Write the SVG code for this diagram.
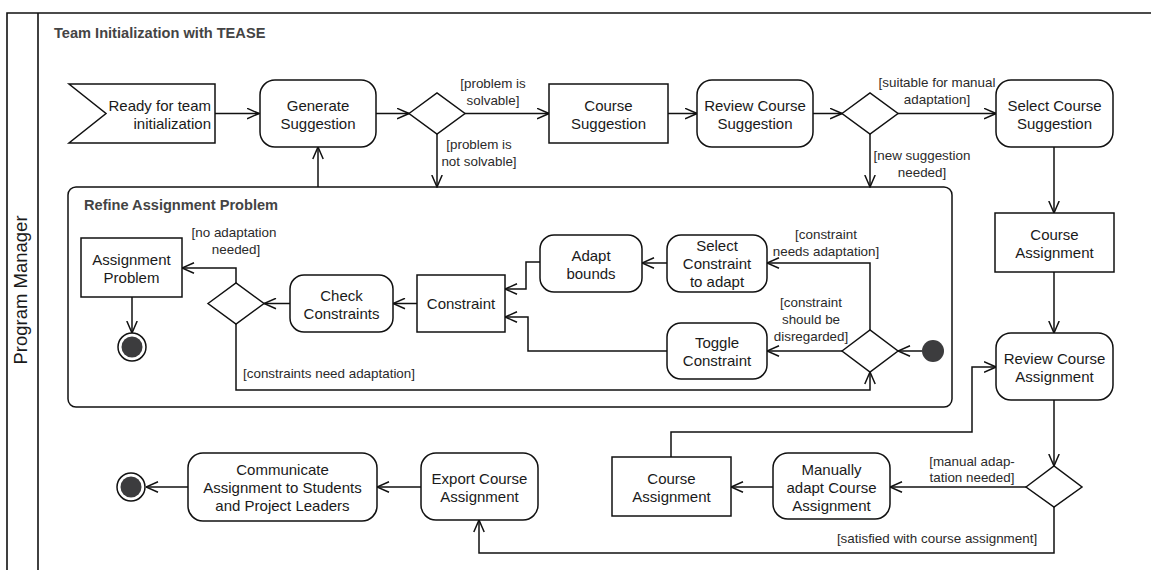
<svg xmlns="http://www.w3.org/2000/svg" width="1151" height="570" viewBox="0 0 1151 570">
  <defs>
    <style>
      .lane { fill: none; stroke: #111; stroke-width: 1.6; }
      .node { fill: #fff; stroke: #111; stroke-width: 1.5; }
      .region { fill: #fff; stroke: #111; stroke-width: 1.5; }
      .edge { fill: none; stroke: #111; stroke-width: 1.5; marker-end: url(#open); }
      .solid { fill: #3c3c3e; stroke: none; }
      .ring { fill: #fff; stroke: #111; stroke-width: 1.5; }
      .lbl { font-family: "Liberation Sans", Arial, sans-serif; font-size: 15px; fill: #1a1a1a; text-anchor: middle; }
      .guard { font-family: "Liberation Sans", Arial, sans-serif; font-size: 13.4px; fill: #2a2a2a; text-anchor: middle; }
      .title { font-family: "Liberation Sans", Arial, sans-serif; font-size: 14.6px; font-weight: bold; fill: #444; }
      .lanename { font-family: "Liberation Sans", Arial, sans-serif; font-size: 18.5px; fill: #1a1a1a; text-anchor: middle; }
    </style>
    <marker id="open" viewBox="0 0 13 12" refX="12.5" refY="6" markerWidth="13" markerHeight="12" orient="auto" markerUnits="userSpaceOnUse">
      <path d="M0.5,0.8 L12.5,6 L0.5,11.2" fill="none" stroke="#111" stroke-width="1.5"/>
    </marker>
  </defs>

  <!-- swimlane frame -->
  <g id="lane">
    <path class="lane" d="M7,575 L7,13 L1160,13"/>
    <line class="lane" x1="38" y1="13" x2="38" y2="575"/>
    <text class="lanename" transform="translate(27,290) rotate(-90)">Program Manager</text>
    <text class="title" x="54" y="38">Team Initialization with TEASE</text>
  </g>

  <!-- structured region -->
  <g id="refine-region">
    <rect class="region" x="68" y="187" width="884" height="220" rx="8"/>
    <text class="title" x="84" y="210">Refine Assignment Problem</text>
  </g>

  <!-- connectors -->
  <g id="connectors">
    <path class="edge" d="M215,113.5 L259,113.5"/>
    <path class="edge" d="M376,113.5 L409,113.5"/>
    <path class="edge" d="M465,113.5 L549,113.5"/>
    <path class="edge" d="M668,113.5 L697,113.5"/>
    <path class="edge" d="M813,113.5 L842,113.5"/>
    <path class="edge" d="M898,113.5 L996,113.5"/>
    <path class="edge" d="M437,134 L437,187"/>
    <path class="edge" d="M870,134 L870,187"/>
    <path class="edge" d="M318,187 L318,147"/>
    <path class="edge" d="M1054,147 L1054,213"/>
    <path class="edge" d="M1054,272 L1054,333"/>
    <path class="edge" d="M1054,400 L1054,466"/>
    <path class="edge" d="M1026,487 L890,487"/>
    <path class="edge" d="M773,487 L731,487"/>
    <path class="edge" d="M671,457 L671,432 L972,432 L972,367 L996,367"/>
    <path class="edge" d="M1054,507 L1054,553 L479,553 L479,520"/>
    <path class="edge" d="M421,487 L377,487"/>
    <path class="edge" d="M188,487 L146,487"/>
    <!-- inside the region -->
    <path class="edge" d="M922,351 L898,351"/>
    <path class="edge" d="M870,330 L870,263 L767,263"/>
    <path class="edge" d="M842,351 L767,351"/>
    <path class="edge" d="M667,263 L642,263"/>
    <path class="edge" d="M540,262 L526,262 L526,289 L505,289"/>
    <path class="edge" d="M667,351 L528,351 L528,317 L505,317"/>
    <path class="edge" d="M417,303.5 L393,303.5"/>
    <path class="edge" d="M290,303.5 L264,303.5"/>
    <path class="edge" d="M236,283 L236,268 L182,268"/>
    <path class="edge" d="M132,297 L132,333"/>
    <path class="edge" d="M236,324 L236,390 L870,390 L870,372"/>
  </g>

  <!-- guard labels -->
  <g id="guards">
    <text class="guard" x="493" y="88">[problem is</text>
    <text class="guard" x="493" y="105">solvable]</text>
    <text class="guard" x="479" y="149">[problem is</text>
    <text class="guard" x="479" y="166">not solvable]</text>
    <text class="guard" x="937" y="87">[suitable for manual</text>
    <text class="guard" x="937" y="104">adaptation]</text>
    <text class="guard" x="922" y="160">[new suggestion</text>
    <text class="guard" x="922" y="177">needed]</text>
    <text class="guard" x="234" y="237">[no adaptation</text>
    <text class="guard" x="236" y="254">needed]</text>
    <text class="guard" x="329" y="378">[constraints need adaptation]</text>
    <text class="guard" x="826" y="239">[constraint</text>
    <text class="guard" x="826" y="256">needs adaptation]</text>
    <text class="guard" x="811" y="307">[constraint</text>
    <text class="guard" x="811" y="324">should be</text>
    <text class="guard" x="811" y="341">disregarded]</text>
    <text class="guard" x="972" y="466">[manual adap-</text>
    <text class="guard" x="972" y="482">tation needed]</text>
    <text class="guard" x="937" y="543">[satisfied with course assignment]</text>
  </g>

  <!-- nodes -->
  <g id="ready">
    <polygon class="node" points="69,84 215,84 215,143 69,143 106,113.5"/>
    <text class="lbl" x="211" y="111" style="text-anchor:end">Ready for team</text>
    <text class="lbl" x="211" y="129" style="text-anchor:end">initialization</text>
  </g>
  <g id="generate-suggestion">
    <rect class="node" x="260" y="80" width="116" height="67" rx="15"/>
    <text class="lbl" x="318" y="110.5">Generate</text>
    <text class="lbl" x="318" y="128.5">Suggestion</text>
  </g>
  <g id="decision-solvable">
    <polygon class="node" points="409,113.5 437,93 465,113.5 437,134"/>
  </g>
  <g id="course-suggestion">
    <rect class="node" x="549" y="84" width="119" height="59"/>
    <text class="lbl" x="608.5" y="110.5">Course</text>
    <text class="lbl" x="608.5" y="128.5">Suggestion</text>
  </g>
  <g id="review-course-suggestion">
    <rect class="node" x="697" y="80" width="116" height="67" rx="15"/>
    <text class="lbl" x="755" y="110.5">Review Course</text>
    <text class="lbl" x="755" y="128.5">Suggestion</text>
  </g>
  <g id="decision-suitable">
    <polygon class="node" points="842,113.5 870,93 898,113.5 870,134"/>
  </g>
  <g id="select-course-suggestion">
    <rect class="node" x="996" y="80" width="117" height="67" rx="15"/>
    <text class="lbl" x="1054.5" y="110.5">Select Course</text>
    <text class="lbl" x="1054.5" y="128.5">Suggestion</text>
  </g>
  <g id="course-assignment-1">
    <rect class="node" x="995" y="213" width="119" height="59"/>
    <text class="lbl" x="1054.5" y="239.5">Course</text>
    <text class="lbl" x="1054.5" y="257.5">Assignment</text>
  </g>
  <g id="review-course-assignment">
    <rect class="node" x="996" y="333" width="117" height="67" rx="15"/>
    <text class="lbl" x="1054.5" y="363.5">Review Course</text>
    <text class="lbl" x="1054.5" y="381.5">Assignment</text>
  </g>
  <g id="decision-satisfied">
    <polygon class="node" points="1026,487 1054,466 1082,487 1054,507"/>
  </g>
  <g id="manually-adapt">
    <rect class="node" x="773" y="453" width="117" height="66" rx="15"/>
    <text class="lbl" x="831.5" y="475">Manually</text>
    <text class="lbl" x="831.5" y="493">adapt Course</text>
    <text class="lbl" x="831.5" y="511">Assignment</text>
  </g>
  <g id="course-assignment-2">
    <rect class="node" x="612" y="457" width="119" height="59"/>
    <text class="lbl" x="671.5" y="483.5">Course</text>
    <text class="lbl" x="671.5" y="501.5">Assignment</text>
  </g>
  <g id="export-course-assignment">
    <rect class="node" x="421" y="453" width="117" height="67" rx="15"/>
    <text class="lbl" x="479.5" y="483.5">Export Course</text>
    <text class="lbl" x="479.5" y="501.5">Assignment</text>
  </g>
  <g id="communicate">
    <rect class="node" x="188" y="453" width="189" height="68" rx="15"/>
    <text class="lbl" x="282.5" y="475">Communicate</text>
    <text class="lbl" x="282.5" y="493">Assignment to Students</text>
    <text class="lbl" x="282.5" y="511">and Project Leaders</text>
  </g>
  <g id="final-main">
    <circle class="ring" cx="131" cy="487" r="14"/>
    <circle class="solid" cx="131" cy="487" r="10.5"/>
  </g>

  <g id="initial-refine">
    <circle class="solid" cx="933" cy="351" r="11"/>
  </g>
  <g id="decision-constraint">
    <polygon class="node" points="842,351 870,330 898,351 870,372"/>
  </g>
  <g id="select-constraint">
    <rect class="node" x="667" y="235" width="100" height="57" rx="14"/>
    <text class="lbl" x="717" y="251">Select</text>
    <text class="lbl" x="717" y="269">Constraint</text>
    <text class="lbl" x="717" y="287">to adapt</text>
  </g>
  <g id="adapt-bounds">
    <rect class="node" x="540" y="235" width="102" height="57" rx="14"/>
    <text class="lbl" x="591" y="260.5">Adapt</text>
    <text class="lbl" x="591" y="278.5">bounds</text>
  </g>
  <g id="toggle-constraint">
    <rect class="node" x="667" y="323" width="100" height="56" rx="14"/>
    <text class="lbl" x="717" y="348">Toggle</text>
    <text class="lbl" x="717" y="366">Constraint</text>
  </g>
  <g id="constraint">
    <rect class="node" x="417" y="275" width="88" height="57"/>
    <text class="lbl" x="461" y="309">Constraint</text>
  </g>
  <g id="check-constraints">
    <rect class="node" x="290" y="275" width="103" height="57" rx="14"/>
    <text class="lbl" x="341.5" y="300.5">Check</text>
    <text class="lbl" x="341.5" y="318.5">Constraints</text>
  </g>
  <g id="decision-adaptation">
    <polygon class="node" points="208,303.5 236,283 264,303.5 236,324"/>
  </g>
  <g id="assignment-problem">
    <rect class="node" x="81" y="238" width="101" height="59"/>
    <text class="lbl" x="131.5" y="264.5">Assignment</text>
    <text class="lbl" x="131.5" y="282.5">Problem</text>
  </g>
  <g id="final-refine">
    <circle class="ring" cx="132" cy="347" r="14"/>
    <circle class="solid" cx="132" cy="347" r="10.5"/>
  </g>
</svg>
